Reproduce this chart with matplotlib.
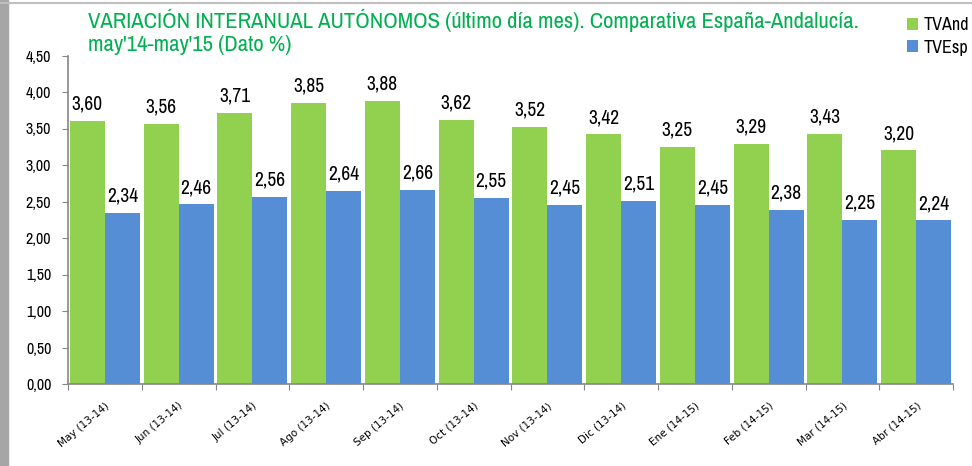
import matplotlib
matplotlib.use("Agg")
import matplotlib.pyplot as plt
import numpy as np

# === DATA ===
categories = ["May (13-14)", "Jun (13-14)", "Jul (13-14)", "Ago (13-14)", "Sep (13-14)",
              "Oct (13-14)", "Nov (13-14)", "Dic (13-14)", "Ene (14-15)", "Feb (14-15)",
              "Mar (14-15)", "Abr (14-15)"]
tv_and = [3.60, 3.56, 3.71, 3.85, 3.88, 3.62, 3.52, 3.42, 3.25, 3.29, 3.43, 3.20]
tv_esp = [2.34, 2.46, 2.56, 2.64, 2.66, 2.55, 2.45, 2.51, 2.45, 2.38, 2.25, 2.24]
yticks = [0, 0.5, 1.0, 1.5, 2.0, 2.5, 3.0, 3.5, 4.0, 4.5]

GREEN = "#92D050"
BLUE = "#558ED5"
TITLE_GREEN = "#00B050"
NARROW = ["Archivo Narrow", "Liberation Sans", "DejaVu Sans"]

def fmt(v):
    return f"{v:.2f}".replace(".", ",")

fig = plt.figure(figsize=(9.72, 4.66), dpi=100)
fig.patch.set_facecolor("white")

# frame of the screenshot: grey shadow left, thin line on top
fig.add_artist(plt.Rectangle((0, 0), 8 / 972, 1, transform=fig.transFigure,
                             color="#A6A6A6", zorder=0))
fig.add_artist(plt.Line2D([0, 1], [1 - 3 / 466, 1 - 3 / 466], transform=fig.transFigure,
                          color="#BFBFBF", lw=1.5))

ax = fig.add_axes([68 / 972, 1 - 384 / 466, 885 / 972, 328.5 / 466])

x = np.arange(len(categories))
w = 0.475
ax.bar(x - w / 2, tv_and, width=w, color=GREEN, label="TVAnd")
ax.bar(x + w / 2, tv_esp, width=w, color=BLUE, label="TVEsp")

for xi, v in zip(x, tv_and):
    ax.text(xi - w / 2, v + 0.1, fmt(v), ha="center", va="bottom", fontsize=14,
            family=NARROW)
for xi, v in zip(x, tv_esp):
    ax.text(xi + w / 2, v + 0.1, fmt(v), ha="center", va="bottom", fontsize=14,
            family=NARROW)

ax.set_xlim(-0.5, len(categories) - 0.5)
ax.set_ylim(0, 4.5)
ax.set_yticks(yticks)
ax.set_yticklabels([fmt(t) for t in yticks], fontsize=11.5, family=NARROW)
ax.set_xticks(np.arange(len(categories) + 1) - 0.5)
ax.set_xticklabels([])
ax.set_xticks(x, minor=True)
ax.set_xticklabels(categories, minor=True, rotation=40, ha="right",
                   rotation_mode="anchor", fontsize=7.5)
ax.tick_params(axis="x", which="minor", length=0, pad=12)
ax.tick_params(axis="x", which="major", length=4, color="#868686")
ax.tick_params(axis="y", length=4, color="#868686", pad=8)

for s in ["top", "right"]:
    ax.spines[s].set_visible(False)
for s in ["left", "bottom"]:
    ax.spines[s].set_color("#868686")
    ax.spines[s].set_linewidth(1.2)

fig.text(88 / 972, 1 - 20 / 466,
         "VARIACIÓN INTERANUAL AUTÓNOMOS (último día mes). Comparativa España-Andalucía.",
         color=TITLE_GREEN, fontsize=16.3, family=NARROW, va="center", ha="left")
fig.text(88 / 972, 1 - 45 / 466, "may'14-may'15 (Dato %)",
         color=TITLE_GREEN, fontsize=16.3, family=NARROW, va="center", ha="left")

leg = fig.legend(loc="upper left", bbox_to_anchor=(900 / 972, 1 - 10 / 466), frameon=False,
                 handlelength=0.6, handleheight=0.6, handletextpad=0.3,
                 labelspacing=0.35, borderaxespad=0, prop={"family": NARROW, "size": 13})

fig.savefig("out.png", dpi=100)
